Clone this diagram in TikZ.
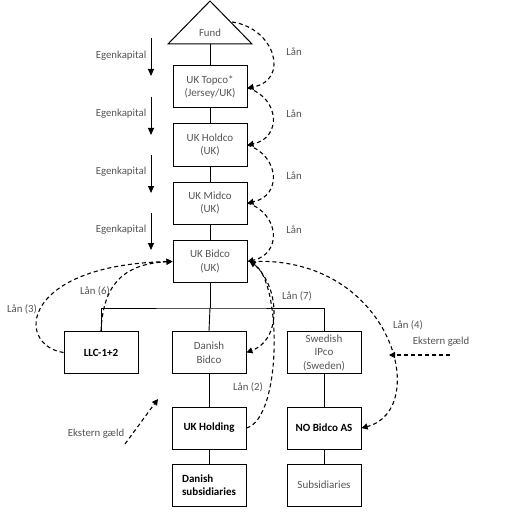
\documentclass[tikz,border=0pt]{standalone}
\usepackage{fontspec}
\setmainfont{Carlito}
\usetikzlibrary{arrows.meta}
\definecolor{txtgray}{HTML}{555555}
\begin{document}
\begin{tikzpicture}[x=1pt,y=-1pt,
  box/.style={draw,line width=1pt,minimum width=74pt,minimum height=42pt,inner sep=1pt,align=center,text=txtgray,font=\fontsize{11}{13.5}\selectfont},
  dbox/.style={box,text=black,font=\fontsize{11}{13.5}\selectfont\bfseries},
  lbl/.style={text=txtgray,font=\fontsize{10.8}{12}\selectfont,inner sep=0pt},
  conn/.style={line width=0.9pt},
  eq/.style={line width=1pt,-{Triangle[length=7pt,width=6pt]}},
  loan/.style={line width=1.1pt,dash pattern=on 4pt off 3pt,-{Triangle[length=6pt,width=6pt]}}]
\useasboundingbox (0,0) rectangle (511,513);
% Fund triangle
\coordinate (fl) at (168,44);
\coordinate (fr) at (252,44);
\coordinate (ft) at (210,1);
\draw[line width=1pt] (fl) -- (fr) -- (ft) -- cycle;
\node[lbl] (fund) at (210,33) {Fund};
\coordinate (fbase) at (210,44);
\coordinate (fside) at (232,22);
% boxes
\node[box] (topco) at (210,87) {UK Topco*\\(Jersey/UK)};
\node[box] (holdco) at (210,145) {UK Holdco\\(UK)};
\node[box] (midco) at (210,203) {UK Midco\\(UK)};
\node[box] (bidco) at (210,261.5) {UK Bidco\\(UK)};
\node[dbox] (llc) at (101,352.5) {LLC-1+2};
\node[box] (dkbid) at (209,352.5) {Danish\\Bidco};
\node[box] (swe) at (324,352.5) {Swedish\\IPco\\(Sweden)};
\node[dbox] (ukhold) at (209,428) {UK Holding};
\node[dbox] (nobid) at (324,428) {NO Bidco AS};
\node[dbox,align=left] (dksub) at (209,485) {Danish\\subsidiaries};
\node[box] (sub) at (324,485) {Subsidiaries};
% ownership lines
\draw[conn] (fbase) -- (topco.north);
\draw[conn] (topco) -- (holdco);
\draw[conn] (holdco) -- (midco);
\draw[conn] (midco) -- (bidco);
\coordinate (bus) at (210,308);
\draw[conn] (bidco.south) -- (bus);
\draw[conn] (llc.north) |- (bus) -| (swe.north);
\draw[conn] (bus) -- (dkbid.north);
\draw[conn] (dkbid) -- (ukhold);
\draw[conn] (ukhold) -- (dksub);
\draw[conn] (swe) -- (nobid);
\draw[conn] (nobid) -- (sub);
% Egenkapital arrows
\foreach \ya/\yb/\yl/\n in {38/76/56/a,97/135/114/b,155/193/172/c,213/250/230/d}{
  \coordinate (e1\n) at (151,\ya);
  \coordinate (e2\n) at (151,\yb);
  \draw[eq] (e1\n) -- (e2\n);
  \node[lbl] (el\n) at (121,\yl) {Egenkapital};
}
% top loans
\draw[loan] (fside) .. controls (275,28) and (290,80) .. ([yshift=-1pt]topco.east);
\draw[loan] ([yshift=-1pt]topco.east) .. controls (280,98) and (282,138) .. ([yshift=0pt]holdco.east);
\draw[loan] (holdco.east) .. controls (280,156) and (282,196) .. (midco.east);
\draw[loan] (midco.east) .. controls (280,214) and (282,254) .. ([yshift=0pt]bidco.east);
\node[lbl] (l1) at (294,52) {Lån};
\node[lbl] (l2) at (294,114) {Lån};
\node[lbl] (l3) at (294,176) {Lån};
\node[lbl] (l4) at (294,230) {Lån};
% bottom loans
\draw[loan] (llc.west) .. controls (15,345) and (20,265) .. (bidco.west);
\draw[loan] (llc.north) .. controls (103,288) and (120,264) .. (bidco.west);
\draw[loan] ([xshift=3pt]bidco.east) .. controls (278,280) and (285,338) .. (dkbid.east);
\draw[loan] (ukhold.east) .. controls (282,418) and (282,282) .. ([xshift=2pt]bidco.east);
\draw[loan] ([xshift=4pt]bidco.east) .. controls (392,255) and (432,410) .. (nobid.east);
\node[lbl] (l5) at (22,309) {Lån (3)};
\node[lbl] (l6) at (95,291) {Lån (6)};
\node[lbl] (l7) at (297,296) {Lån (7)};
\node[lbl] (l8) at (408,325) {Lån (4)};
\node[lbl] (l9) at (248,387) {Lån (2)};
% external debt
\coordinate (x1) at (450,355);
\coordinate (x2) at (389,355);
\draw[loan] (x1) -- (x2);
\node[lbl] (ek1) at (441,342) {Ekstern gæld};
\coordinate (x3) at (125,444);
\coordinate (x4) at (158,399);
\draw[loan] (x3) -- (x4);
\node[lbl] (ek2) at (96,434) {Ekstern gæld};
\end{tikzpicture}
\end{document}
